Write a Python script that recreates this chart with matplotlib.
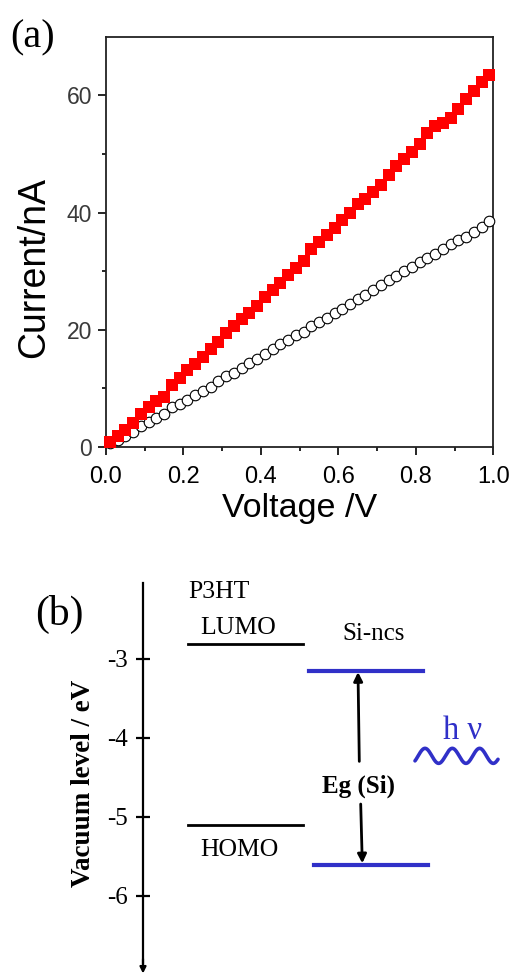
import numpy as np
import matplotlib
matplotlib.use('Agg')
import matplotlib.pyplot as plt

# (a) I-V data
voltage = [0.01, 0.03, 0.05, 0.07, 0.09, 0.11, 0.13, 0.15, 0.17, 0.19,
           0.21, 0.23, 0.25, 0.27, 0.29, 0.31, 0.33, 0.35, 0.37, 0.39,
           0.41, 0.43, 0.45, 0.47, 0.49, 0.51, 0.53, 0.55, 0.57, 0.59,
           0.61, 0.63, 0.65, 0.67, 0.69, 0.71, 0.73, 0.75, 0.77, 0.79,
           0.81, 0.83, 0.85, 0.87, 0.89, 0.91, 0.93, 0.95, 0.97, 0.99]
current_red = [0.8, 1.9, 2.9, 4.1, 5.6, 6.8, 7.8, 8.5, 10.6, 11.8,
               13.2, 14.1, 15.3, 16.8, 17.9, 19.4, 20.6, 21.8, 22.9, 24.1,
               25.6, 26.7, 27.9, 29.4, 30.6, 31.7, 33.8, 35.0, 36.2, 37.3,
               38.8, 40.0, 41.4, 42.3, 43.5, 44.7, 46.4, 47.9, 49.1, 50.3,
               51.7, 53.5, 54.8, 55.3, 56.1, 57.6, 59.4, 60.7, 62.3, 63.5]
current_open = [0.6, 1.2, 1.9, 2.6, 3.5, 4.2, 5.0, 5.6, 6.8, 7.3,
                8.1, 8.8, 9.5, 10.3, 11.2, 12.1, 12.6, 13.5, 14.4, 15.0,
                15.9, 16.8, 17.5, 18.2, 19.1, 19.7, 20.6, 21.3, 22.0, 22.8,
                23.6, 24.4, 25.3, 26.0, 26.7, 27.6, 28.5, 29.1, 30.0, 30.7,
                31.5, 32.2, 32.9, 33.8, 34.6, 35.3, 35.9, 36.7, 37.6, 38.5]

# (b) energy levels (eV)
p3ht_lumo = -2.81
p3ht_homo = -5.10
si_lumo = -3.15
si_homo = -5.61
level_ticks = [-3, -4, -5, -6]

W, H = 512, 975
fig = plt.figure(figsize=(W / 100, H / 100), dpi=100)


def fx(x):
    return x / W


def fy(y):
    return 1 - y / H


sans = 'Liberation Sans'
serif = 'Liberation Serif'
blue = '#3030c8'

# ---------- panel (a) ----------
ax = fig.add_axes([fx(106), fy(447), (493.3 - 106) / W, (447 - 36.7) / H])
ax.plot(voltage, current_open, 'o', ms=7.6, mfc='white', mec='black', mew=0.8,
        clip_on=False, zorder=3)
ax.plot(voltage, current_red, 's', ms=8.8, color='red', mec='red', mew=0,
        clip_on=False, zorder=4)
ax.set_xlim(0, 1.0)
ax.set_ylim(0, 70)
ax.set_xticks([0.0, 0.2, 0.4, 0.6, 0.8, 1.0])
ax.set_xticks([0.1, 0.3, 0.5, 0.7, 0.9], minor=True)
ax.set_yticks([0, 20, 40, 60])
ax.set_yticks([10, 30, 50], minor=True)
ax.set_xticklabels(['0.0', '0.2', '0.4', '0.6', '0.8', '1.0'],
                   family=sans, fontsize=17, color='black')
ax.set_yticklabels(['0', '20', '40', '60'], family=sans, fontsize=16.5,
                   color='#3a3a3a')
ax.tick_params(which='major', direction='out', length=5.5, width=1.2)
ax.tick_params(which='minor', direction='out', length=3, width=1.2)
ax.tick_params(axis='x', which='major', pad=8)
ax.tick_params(axis='y', which='major', pad=4.5)
for s in ax.spines.values():
    s.set_linewidth(1.3)
    s.set_color('#222222')

fig.text(fx(300), fy(517), 'Voltage /V', family=sans, fontsize=24.5,
         ha='center', va='baseline')
fig.text(fx(34), fy(268), 'Current/nA', family=sans, fontsize=27,
         rotation=90, ha='center', va='center')
fig.text(fx(10), fy(47), '(a)', family=serif, fontsize=29, va='baseline')

# ---------- panel (b) ----------
ax2 = fig.add_axes([0, 0, 1, 415 / H])
ax2.set_xlim(-1.43, 3.69)
ax2.set_ylim(-7.004, -1.751)
ax2.patch.set_alpha(0)
for k in ['top', 'right', 'bottom']:
    ax2.spines[k].set_visible(False)
ax2.spines['left'].set_position(('data', 0))
ax2.spines['left'].set_bounds(-6.85, -2.042)
ax2.spines['left'].set_linewidth(1.6)
ax2.set_xticks([])
ax2.set_yticks(level_ticks)
ax2.set_yticklabels([str(t) for t in level_ticks], family=serif, fontsize=18)
ax2.tick_params(axis='y', direction='inout', length=9.5, width=1.6, pad=6)
ax2.annotate('', xy=(0, -6.985), xytext=(0, -6.8),
             arrowprops=dict(arrowstyle='-|>', color='black', lw=1.6,
                             mutation_scale=9, shrinkA=0, shrinkB=0))

ax2.plot([0.45, 1.60], [p3ht_lumo] * 2, color='black', lw=2)
ax2.plot([0.45, 1.60], [p3ht_homo] * 2, color='black', lw=2)
ax2.plot([1.66, 2.80], [si_lumo] * 2, color=blue, lw=3)
ax2.plot([1.71, 2.85], [si_homo] * 2, color=blue, lw=3)

arrow = dict(arrowstyle='-|>', color='black', lw=2, mutation_scale=13,
             shrinkA=0, shrinkB=0)
ax2.annotate('', xy=(2.15, si_lumo - 0.02), xytext=(2.163, -4.30), arrowprops=arrow)
ax2.annotate('', xy=(2.193, si_homo + 0.02), xytext=(2.177, -4.84), arrowprops=arrow)

ax2.text(0.45, -2.23, 'P3HT', family=serif, fontsize=18.5, va='baseline')
ax2.text(0.57, -2.687, 'LUMO', family=serif, fontsize=18.5, va='baseline')
ax2.text(0.57, -5.497, 'HOMO', family=serif, fontsize=18.5, va='baseline')
ax2.text(1.99, -2.763, 'Si-ncs', family=serif, fontsize=18, va='baseline')
ax2.text(2.155, -4.70, 'Eg (Si)', family=serif, fontsize=18, weight='bold',
         ha='center', va='baseline')
ax2.text(3.00, -4.016, 'h \u03bd', family=serif, fontsize=23.5, color=blue,
         va='baseline')

# photon squiggle (decoration)
wx = np.linspace(2.72, 3.55, 200)
ax2.plot(wx, -4.23 + 0.095 * np.cos(2 * np.pi * (wx - 2.82) / 0.273),
         color=blue, lw=2.6, solid_capstyle='round')

fig.text(fx(83), fy(783), 'Vacuum level / eV', family=serif, fontsize=19.5,
         weight='bold', rotation=90, ha='center', va='center')
fig.text(fx(35), fy(625), '(b)', family=serif, fontsize=30, va='baseline')

fig.savefig('out.png', dpi=100)
